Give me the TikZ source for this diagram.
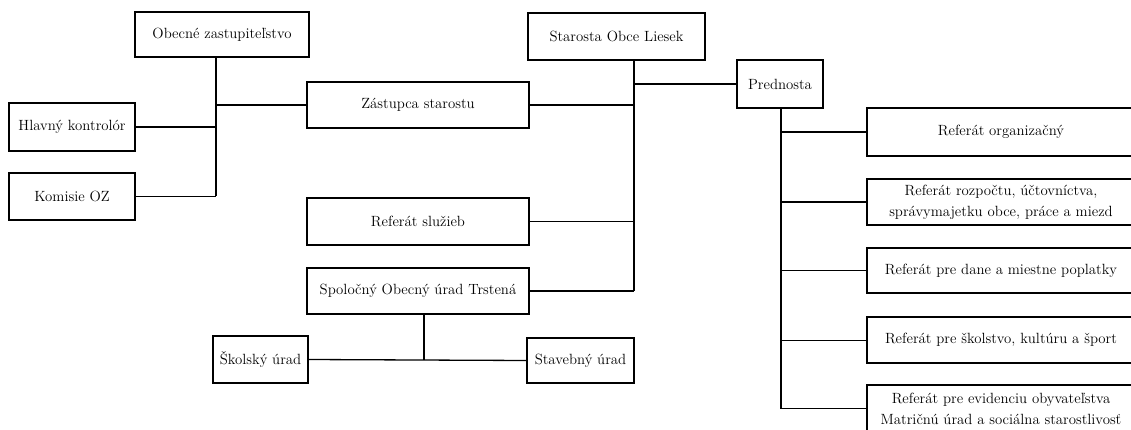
\documentclass[tikz,border=0pt]{standalone}
\begin{document}
\begin{tikzpicture}[x=1pt,y=-1pt,
  box/.style={draw=black,line width=1.3pt,fill=white,inner sep=0pt,align=center,
    font=\rmfamily\fontsize{14.8}{21}\selectfont,text=black},
  conn/.style={line width=1.3pt,draw=black}]
\useasboundingbox (0,0) rectangle (1131,430);
\clip (0,0) rectangle (1131,430);
% nodes
\node[box,minimum width=174pt,minimum height=45pt] (oz) at (222,34.5) {Obecné zastupiteľstvo};
\node[box,minimum width=126pt,minimum height=48pt] (hk) at (72,127) {Hlavný kontrolór};
\node[box,minimum width=126pt,minimum height=47pt] (kom) at (72,196.5) {Komisie OZ};
\node[box,minimum width=222pt,minimum height=46pt] (zast) at (418,105) {Zástupca starostu};
\node[box,minimum width=177pt,minimum height=47pt] (star) at (616.5,36.5) {Starosta Obce Liesek};
\node[box,minimum width=86pt,minimum height=48pt] (pred) at (780,84) {Prednosta};
\node[box,minimum width=222pt,minimum height=47pt] (refsl) at (418,221.5) {Referát služieb};
\node[box,minimum width=222pt,minimum height=46pt] (spol) at (418,291) {Spoločný Obecný úrad Trstená};
\node[box,minimum width=95pt,minimum height=47pt] (skol) at (260.5,359.5) {Školský úrad};
\node[box,minimum width=107pt,minimum height=45pt] (stav) at (580.5,360.5) {Stavebný úrad};
\node[box,minimum width=268pt,minimum height=48pt] (r1) at (1001,132) {Referát organizačný};
\node[box,minimum width=268pt,minimum height=46pt] (r2) at (1001,202) {Referát rozpočtu, účtovníctva,\\správymajetku obce, práce a miezd};
\node[box,minimum width=268pt,minimum height=45pt] (r3) at (1001,270.5) {Referát pre dane a miestne poplatky};
\node[box,minimum width=268pt,minimum height=46pt] (r4) at (1001,340) {Referát pre školstvo, kultúru a šport};
\node[box,minimum width=268pt,minimum height=47pt] (r5) at (1001,408.5) {Referát pre evidenciu obyvateľstva\\Matričnú úrad a sociálna starostlivosť};
% junction coordinates
\coordinate (j1) at ([xshift=-6pt]oz.south);
\coordinate (j2) at ([xshift=17.5pt]star.south);
\coordinate (j3) at ([xshift=6pt]spol.south);
\coordinate (j4) at ([xshift=1pt]pred.south);
% connectors: Obecne zastupitelstvo
\draw[conn] (j1) -- (j1 |- kom.east);
\draw[conn] (hk.east) -- (hk.east -| j1);
\draw[conn] (kom.east) -- (kom.east -| j1);
\draw[conn] (zast.west) -- (zast.west -| j1);
% Starosta
\draw[conn] (j2) -- (j2 |- spol.east);
\draw[conn] (pred.west) -- (pred.west -| j2);
\draw[conn] (zast.east) -- (zast.east -| j2);
\draw[conn] (refsl.east) -- (refsl.east -| j2);
\draw[conn] (spol.east) -- (spol.east -| j2);
% Spolocny urad
\draw[conn] (j3) -- (j3 |- skol.east);
\draw[conn] (skol.east) -- (stav.west);
% Prednosta
\draw[conn] (j4) -- (j4 |- r5.west);
\draw[conn] (r1.west) -- (r1.west -| j4);
\draw[conn] (r2.west) -- (r2.west -| j4);
\draw[conn,line width=1pt] (r3.west) -- (r3.west -| j4);
\draw[conn,line width=1pt] (r4.west) -- (r4.west -| j4);
\draw[conn,line width=1pt] (r5.west) -- (r5.west -| j4);
\end{tikzpicture}
\end{document}
